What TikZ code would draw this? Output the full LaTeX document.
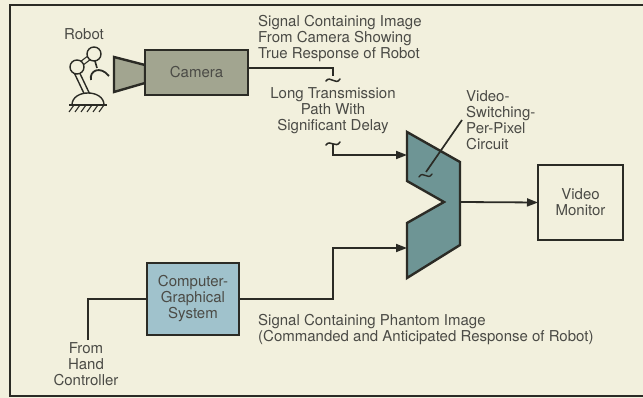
\documentclass[tikz,border=0pt]{standalone}
\usepackage{fontspec}
\setmainfont{TeX Gyre Heros}
\usetikzlibrary{arrows.meta,calc}
\definecolor{paper}{HTML}{F2F0DD}
\definecolor{ink}{HTML}{2B2B25}
\definecolor{camfill}{HTML}{A2A590}
\definecolor{cgsfill}{HTML}{A0C2CC}
\definecolor{muxfill}{HTML}{6E9595}
\begin{document}
\begin{tikzpicture}[x=1pt,y=-1pt,
  font=\fontsize{15}{16}\selectfont,
  box/.style={draw=ink, line width=2.6pt, inner sep=0pt, outer sep=0pt, align=center, text=ink!85},
  wire/.style={draw=ink, line width=1.8pt},
  feed/.style={wire, -{Triangle[length=11pt,width=8pt]}},
  lbl/.style={text=ink!85, inner sep=0pt},
  robotline/.style={draw=ink, line width=1.4pt, fill=paper},
  breakmark/.style={draw=ink, line width=1.5pt, line cap=round},
]
% paper and frame
\fill[paper] (0,0) rectangle (643,398);
\useasboundingbox (0,0) rectangle (643,398);
\draw[ink, line width=1.6pt] (650,5) -- (10,5) -- (10,396) -- (650,396);

% ---------- robot ----------
\node[lbl] (robotlbl) at (84,34) {Robot};
\draw[robotline] (74.8,74.1) -- (84.8,95.1) -- (89.2,92.9) -- (79.2,71.9) -- cycle;
\draw[robotline] (72,105) .. controls (72,89) and (104,89) .. (104,105) -- cycle;
\draw[ink, line width=1.4pt] (69,105) -- (107,105);
\foreach \hx in {74,80,86,92,98,104}
  \draw[ink, line width=1.1pt] (\hx,105) -- (\hx-5,112);
\draw[ink, line width=1.2pt, double=paper, double distance=3pt] (77,67) -- (94,54);
\draw[robotline] (77,67) circle[radius=7];
\draw[robotline] (94,54) circle[radius=7];
\draw[ink, line width=1.6pt] (95,61) -- (97,68);
\draw[ink, line width=1.8pt] (91,80) .. controls (89,71) and (100,65) .. (109,76);

% ---------- camera ----------
\draw[ink, line width=2.4pt, fill=camfill] (114,57) -- (145,65) -- (145,83) -- (114,92) -- cycle;
\node[box, fill=camfill, minimum width=103pt, minimum height=45pt] (camera) at (196.5,72.5) {Camera};

% ---------- computer-graphical system ----------
\node[box, fill=cgsfill, minimum width=92pt, minimum height=72pt] (cgs) at (193,299)
  {Computer-\\Graphical\\System};

% ---------- video monitor ----------
\node[box, fill=paper, minimum width=85pt, minimum height=75pt] (monitor) at (580.5,202.5)
  {Video\\Monitor};

% ---------- video-switching circuit ----------
\coordinate (m1) at (407,132);
\coordinate (m2) at (460,162);
\coordinate (m3) at (460,245);
\coordinate (m4) at (407,278);
\coordinate (m5) at (407,223);
\coordinate (m6) at (444,202);
\coordinate (m7) at (407,181);
\draw[ink, line width=2.4pt, fill=muxfill, line join=miter]
  (m1) -- (m2) -- (m3) -- (m4) -- (m5) -- (m6) -- (m7) -- cycle;
\coordinate (muxin1) at (407,155);
\coordinate (muxin2) at (407,248);
\coordinate (muxout) at (460,202);

% ---------- labels ----------
\node[lbl, align=left, anchor=west] (toptext) at (258,39)
  {Signal Containing Image\\From Camera Showing\\True Response of Robot};
\node[lbl, align=center] (delaytext) at (333,111)
  {Long Transmission\\Path With\\Significant Delay};
\node[lbl, align=left, anchor=west] (switchtext) at (466,120)
  {Video-\\Switching-\\Per-Pixel\\Circuit};
\node[lbl, align=center] (handtext) at (86,364)
  {From\\Hand\\Controller};
\node[lbl, align=left, anchor=west] (phantomtext) at (258,330)
  {Signal Containing Phantom Image\\(Commanded and Anticipated Response of Robot)};

% ---------- connectors ----------
% camera to the long transmission path
\coordinate (camout) at ($(camera.north east)!0.4!(camera.south east)$);
\coordinate (pathtop) at (333,76);
\draw[wire] (camout) -- (pathtop |- camout) -- (pathtop);
\draw[breakmark] (326,81) .. controls (330,75) and (336,86) .. (340,79);
% delayed signal into the switching circuit
\coordinate (pathbot) at (333,144);
\draw[breakmark] (326,145) .. controls (330,139) and (336,149) .. (340,142);
\draw[feed] (pathbot) -- (pathbot |- muxin1) -- (muxin1);
% hand controller into the computer-graphical system
\coordinate (handin) at (88,340);
\draw[wire] (handin) -- (handin |- cgs.west) -- (cgs.west);
% phantom image into the switching circuit
\coordinate (phbend) at (333,299);
\draw[feed] (cgs.east) -- (phbend) -- (phbend |- muxin2) -- (muxin2);
% switching circuit to the monitor
\draw[feed] (muxout) -- (monitor.west);
% pointer to the circuit
\coordinate (ptrtop) at (462,120);
\coordinate (ptrend) at (426,172);
\draw[ink, line width=1.7pt] (ptrtop) -- (ptrend);
\draw[ink, line width=1.4pt, line cap=round] (419,177) .. controls (423,170) and (428,181) .. (432,174);
\end{tikzpicture}
\end{document}
